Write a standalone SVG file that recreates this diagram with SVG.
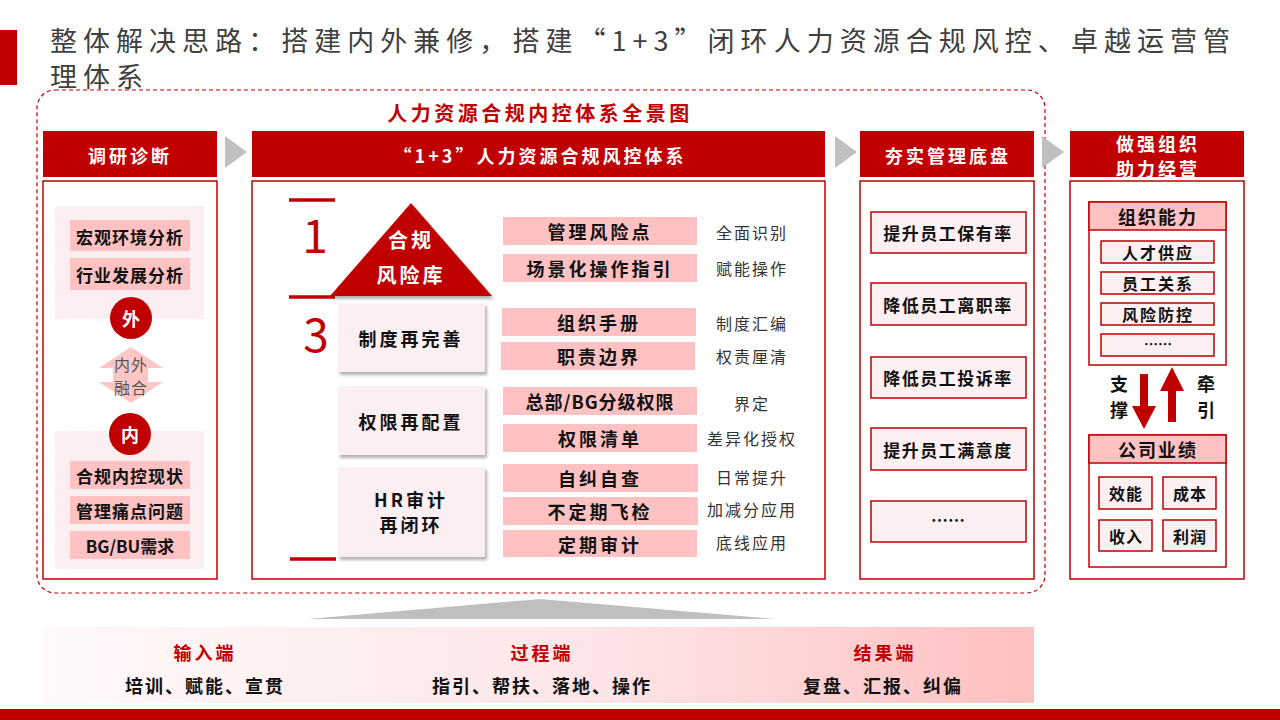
<svg xmlns="http://www.w3.org/2000/svg" width="1280" height="720" viewBox="0 0 1280 720">
<style>
text{font-family:"Noto Sans CJK SC","Liberation Sans",sans-serif;}
.t{text-anchor:middle;dominant-baseline:central;}
.hd{fill:#fff;font-weight:bold;font-size:18px;letter-spacing:3px;}
.bk{fill:#111;font-weight:bold;}
.lbl{fill:#333;font-size:16px;letter-spacing:2px;}
.red{fill:#C00000;}
.pk{fill:#FFC1C1;}
.lp{fill:#FDEEF1;}
.frame{fill:#fff;stroke:#C00000;stroke-width:1.5;}
.ib{fill:#FDF0F2;stroke:#C00000;stroke-width:1.5;}
.chev{fill:#C0C0C0;}
.rl{stroke:#C00000;stroke-width:3.5;}
</style>
<defs>
<linearGradient id="band" x1="0" y1="0" x2="1" y2="0">
<stop offset="0" stop-color="#FFF9F9"/>
<stop offset="0.55" stop-color="#FDE6E8"/>
<stop offset="1" stop-color="#FFC0C0"/>
</linearGradient>
<filter id="sh" x="-10%" y="-10%" width="125%" height="130%">
<feDropShadow dx="2" dy="3" stdDeviation="1.5" flood-color="#000" flood-opacity="0.3"/>
</filter>
</defs>
<rect width="1280" height="720" fill="#fff"/>
<g id="title">
<rect x="0" y="30" width="17" height="55" class="red"/>
<text x="50" y="51" font-size="27" fill="#404040" textLength="1180" lengthAdjust="spacing">整体解决思路：搭建内外兼修，搭建“1+3”闭环人力资源合规风控、卓越运营管</text>
<text x="50" y="87" font-size="27" fill="#404040" letter-spacing="6">理体系</text>
</g>
<rect x="37" y="90" width="1008" height="503" rx="18" fill="none" stroke="#C00000" stroke-width="1.2" stroke-dasharray="4 3"/>
<text class="t" x="540" y="112" font-size="20" font-weight="bold" fill="#C00000" letter-spacing="3.5">人力资源合规内控体系全景图</text>
<g id="headers">
<rect x="43" y="131" width="174" height="46" class="red"/>
<text class="t hd" x="130" y="155">调研诊断</text>
<rect x="252" y="131" width="573" height="46" class="red"/>
<text class="t hd" x="540" y="155">“1+3”人力资源合规风控体系</text>
<rect x="860" y="131" width="174" height="46" class="red"/>
<text class="t hd" x="948" y="155">夯实管理底盘</text>
<rect x="1070" y="131" width="174" height="46" class="red"/>
<text class="t hd" x="1158" y="143">做强组织</text>
<text class="t hd" x="1158" y="168">助力经营</text>
</g>
<g id="col1">
<rect x="43" y="181" width="174" height="398" class="frame"/>
<rect x="55" y="206" width="149" height="113" class="lp"/>
<rect x="55" y="431" width="149" height="138" class="lp"/>
<rect x="70" y="220" width="120" height="31" class="pk"/>
<text class="t bk" x="130" y="236" font-size="17" letter-spacing="1">宏观环境分析</text>
<rect x="70" y="258" width="120" height="32" class="pk"/>
<text class="t bk" x="130" y="274" font-size="17" letter-spacing="1">行业发展分析</text>
<circle cx="131" cy="318" r="21" class="red"/>
<text class="t" x="131" y="318" font-size="18" font-weight="bold" fill="#fff">外</text>
<polygon fill="#FFC6C6" points="131,347 163,368 148,368 148,382 163,382 131,403 99,382 113,382 113,368 99,368"/>
<text class="t" x="131" y="364" font-size="16" fill="#555" letter-spacing="1">内外</text>
<text class="t" x="131" y="387" font-size="16" fill="#555" letter-spacing="1">融合</text>
<circle cx="130" cy="434" r="21" class="red"/>
<text class="t" x="130" y="434" font-size="18" font-weight="bold" fill="#fff">内</text>
<rect x="70" y="461" width="120" height="28" class="pk"/>
<text class="t bk" x="130" y="475" font-size="17" letter-spacing="1">合规内控现状</text>
<rect x="70" y="496" width="120" height="28" class="pk"/>
<text class="t bk" x="130" y="510" font-size="17" letter-spacing="1">管理痛点问题</text>
<rect x="70" y="531" width="120" height="28" class="pk"/>
<text class="t bk" x="130" y="545" font-size="17">BG/BU需求</text>
</g>
<g id="col2">
<rect x="252" y="181" width="573" height="398" class="frame"/>
<line x1="289" y1="200" x2="335" y2="200" class="rl"/>
<line x1="289" y1="297" x2="335" y2="297" class="rl"/>
<line x1="290" y1="559" x2="336" y2="559" class="rl"/>
<text x="315" y="253" font-size="46" fill="#C00000" text-anchor="middle" font-family="Liberation Sans,sans-serif">1</text>
<text x="316" y="352" font-size="46" fill="#C00000" text-anchor="middle" font-family="Liberation Sans,sans-serif">3</text>
<polygon class="red" points="411,203 492,296 330,296" filter="url(#sh)"/>
<text class="t" x="411" y="239" font-size="20" font-weight="bold" fill="#fff" letter-spacing="3">合规</text>
<text class="t" x="411" y="274" font-size="20" font-weight="bold" fill="#fff" letter-spacing="3">风险库</text>
<rect x="338" y="303" width="147" height="69" fill="#FCEFF2" filter="url(#sh)"/>
<text class="t bk" x="411" y="338" font-size="18" letter-spacing="3">制度再完善</text>
<rect x="338" y="386" width="147" height="69" fill="#FCEFF2" filter="url(#sh)"/>
<text class="t bk" x="411" y="421" font-size="18" letter-spacing="3">权限再配置</text>
<rect x="338" y="467" width="147" height="90" fill="#FCEFF2" filter="url(#sh)"/>
<text class="t bk" x="411" y="499" font-size="18" letter-spacing="3">HR审计</text>
<text class="t bk" x="411" y="524" font-size="18" letter-spacing="3">再闭环</text>
<rect x="503" y="217" width="194" height="28" class="pk"/>
<text class="t bk" x="600" y="231" font-size="18" letter-spacing="3">管理风险点</text>
<rect x="503" y="254" width="194" height="28" class="pk"/>
<text class="t bk" x="600" y="268" font-size="18" letter-spacing="3">场景化操作指引</text>
<rect x="502" y="308" width="194" height="28" class="pk"/>
<text class="t bk" x="599" y="322" font-size="18" letter-spacing="3">组织手册</text>
<rect x="501" y="342" width="194" height="28" class="pk"/>
<text class="t bk" x="599" y="356" font-size="18" letter-spacing="3">职责边界</text>
<rect x="503" y="387" width="194" height="28" class="pk"/>
<text class="t bk" x="600" y="401" font-size="18" letter-spacing="1">总部/BG分级权限</text>
<rect x="503" y="424" width="194" height="28" class="pk"/>
<text class="t bk" x="600" y="438" font-size="18" letter-spacing="3">权限清单</text>
<rect x="503" y="464" width="195" height="28" class="pk"/>
<text class="t bk" x="600" y="478" font-size="18" letter-spacing="3">自纠自查</text>
<rect x="503" y="497" width="195" height="28" class="pk"/>
<text class="t bk" x="600" y="511" font-size="18" letter-spacing="3">不定期飞检</text>
<rect x="503" y="530" width="194" height="27" class="pk"/>
<text class="t bk" x="600" y="544" font-size="18" letter-spacing="3">定期审计</text>
<text class="t lbl" x="752" y="232">全面识别</text>
<text class="t lbl" x="752" y="268">赋能操作</text>
<text class="t lbl" x="752" y="323">制度汇编</text>
<text class="t lbl" x="752" y="356">权责厘清</text>
<text class="t lbl" x="752" y="403">界定</text>
<text class="t lbl" x="752" y="438">差异化授权</text>
<text class="t lbl" x="752" y="477">日常提升</text>
<text class="t lbl" x="752" y="509">加减分应用</text>
<text class="t lbl" x="752" y="542">底线应用</text>
</g>
<g id="col3">
<rect x="860" y="181" width="174" height="398" class="frame"/>
<rect x="871" y="212" width="155" height="41" class="ib"/>
<text class="t bk" x="948" y="232" font-size="17" letter-spacing="1.5">提升员工保有率</text>
<rect x="871" y="283" width="155" height="42" class="ib"/>
<text class="t bk" x="948" y="304" font-size="17" letter-spacing="1.5">降低员工离职率</text>
<rect x="871" y="357" width="155" height="41" class="ib"/>
<text class="t bk" x="948" y="377" font-size="17" letter-spacing="1.5">降低员工投诉率</text>
<rect x="871" y="428" width="155" height="42" class="ib"/>
<text class="t bk" x="948" y="449" font-size="17" letter-spacing="1.5">提升员工满意度</text>
<rect x="871" y="501" width="155" height="41" class="ib"/>
<text class="t bk" x="948" y="519" font-size="17">……</text>
</g>
<g id="col4">
<rect x="1070" y="181" width="174" height="398" class="frame"/>
<rect x="1089" y="202" width="137" height="163" class="frame"/>
<rect x="1089" y="202" width="137" height="28" fill="#FFC1C1" stroke="#C00000" stroke-width="1.5"/>
<text class="t bk" x="1158" y="216" font-size="18" letter-spacing="2">组织能力</text>
<rect x="1101" y="241" width="113" height="22" class="ib"/>
<text class="t bk" x="1158" y="252" font-size="16" letter-spacing="2">人才供应</text>
<rect x="1101" y="272" width="113" height="22" class="ib"/>
<text class="t bk" x="1158" y="283" font-size="16" letter-spacing="2">员工关系</text>
<rect x="1101" y="303" width="113" height="22" class="ib"/>
<text class="t bk" x="1158" y="314" font-size="16" letter-spacing="2">风险防控</text>
<rect x="1101" y="334" width="113" height="22" class="ib"/>
<text class="t bk" x="1158" y="343" font-size="14">……</text>
<text class="t bk" x="1119" y="383" font-size="18">支</text>
<text class="t bk" x="1119" y="409" font-size="18">撑</text>
<text class="t bk" x="1206" y="383" font-size="18">牵</text>
<text class="t bk" x="1206" y="409" font-size="18">引</text>
<rect x="1089" y="435" width="137" height="132" class="frame"/>
<rect x="1089" y="435" width="137" height="28" fill="#FFC1C1" stroke="#C00000" stroke-width="1.5"/>
<text class="t bk" x="1158" y="449" font-size="18" letter-spacing="2">公司业绩</text>
<rect x="1099" y="477" width="53" height="32" class="ib"/>
<text class="t bk" x="1126" y="493" font-size="16" letter-spacing="1">效能</text>
<rect x="1163" y="477" width="53" height="32" class="ib"/>
<text class="t bk" x="1190" y="493" font-size="16" letter-spacing="1">成本</text>
<rect x="1099" y="520" width="53" height="31" class="ib"/>
<text class="t bk" x="1126" y="536" font-size="16" letter-spacing="1">收入</text>
<rect x="1163" y="520" width="53" height="31" class="ib"/>
<text class="t bk" x="1190" y="536" font-size="16" letter-spacing="1">利润</text>
</g>
<g id="bottom">
<rect x="43" y="627" width="991" height="76" fill="url(#band)"/>
<text class="t" x="205" y="652" font-size="18" font-weight="bold" fill="#C00000" letter-spacing="3">输入端</text>
<text class="t" x="542" y="652" font-size="18" font-weight="bold" fill="#C00000" letter-spacing="3">过程端</text>
<text class="t" x="885" y="652" font-size="18" font-weight="bold" fill="#C00000" letter-spacing="3">结果端</text>
<text class="t bk" x="205" y="685" font-size="18" letter-spacing="2">培训、赋能、宣贯</text>
<text class="t bk" x="542" y="685" font-size="18" letter-spacing="2">指引、帮扶、落地、操作</text>
<text class="t bk" x="883" y="685" font-size="18" letter-spacing="2">复盘、汇报、纠偏</text>
<rect x="0" y="709" width="1280" height="11" class="red"/>
</g>
<g id="connectors">
<polygon class="chev" points="225,136 247,152 225,168"/>
<polygon class="chev" points="835,136 857,152 835,168"/>
<polygon class="chev" points="1042,136 1064,152 1042,168"/>
<polygon fill="#BFBFBF" points="308,619 540,599 775,619"/>
<polygon class="red" points="1140,374 1148,374 1148,406 1156,406 1144,429 1132,406 1140,406"/>
<polygon class="red" points="1172,367 1184,391 1176,391 1176,422 1168,422 1168,391 1160,391"/>
</g>
</svg>
